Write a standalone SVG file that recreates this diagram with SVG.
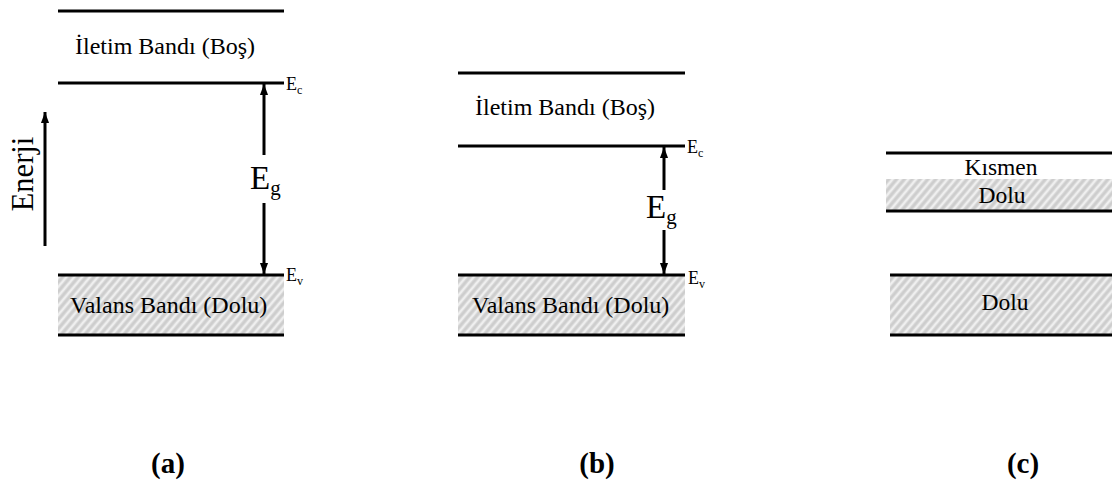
<svg xmlns="http://www.w3.org/2000/svg" width="1112" height="482" viewBox="0 0 1112 482">
<defs>
<pattern id="hatch" patternUnits="userSpaceOnUse" width="6" height="6" patternTransform="rotate(-50)">
<rect width="6" height="6" fill="#d9d9d9"/>
<rect width="6" height="2" y="0" fill="#efefef"/>
<rect width="6" height="1" y="3.5" fill="#c2c2c2"/>
</pattern>
<marker id="ah" markerUnits="userSpaceOnUse" markerWidth="11" markerHeight="16" refX="15" refY="5.5" viewBox="0 0 15 11" orient="auto">
<path d="M0,0 L15,5.5 L0,11 Z" fill="#000"/>
</marker>
<style>
.band{stroke:#000;stroke-width:3.2;fill:none}
.fill{fill:url(#hatch)}
.arr{stroke:#000;stroke-width:3;fill:none;marker-end:url(#ah)}
text{font-family:'Liberation Serif','Times New Roman','DejaVu Serif',serif;fill:#000}
.lbl{font-size:24px}
.e{font-size:18px}
.es{font-size:12px}
.eg{font-size:33px}
.egs{font-size:21px}
.c{font-size:23.5px;text-anchor:middle}
.cap{font-size:29px;font-weight:bold;text-anchor:middle}
</style>
</defs>

<g id="panel-a">
<rect class="fill" x="58" y="276" width="226" height="58"/>
<line class="band" x1="58" y1="11" x2="284" y2="11"/>
<line class="band" x1="58" y1="83" x2="284" y2="83"/>
<line class="band" x1="58" y1="275" x2="284" y2="275"/>
<line class="band" x1="58" y1="335" x2="284" y2="335"/>
<text class="lbl" x="75" y="54">İletim Bandı (Boş)</text>
<text class="lbl" x="70" y="313">Valans Bandı (Dolu)</text>
<text class="e" x="286" y="90">E<tspan class="es" dy="4">c</tspan></text>
<text class="e" x="286" y="281">E<tspan class="es" dy="4">v</tspan></text>
<text class="eg" x="250" y="189">E<tspan class="egs" dy="6">g</tspan></text>
<text font-size="30.5" transform="translate(33,174) rotate(-90)" text-anchor="middle">Enerji</text>
</g>

<g id="panel-b">
<rect class="fill" x="458" y="276" width="227" height="58"/>
<line class="band" x1="458" y1="73" x2="685" y2="73"/>
<line class="band" x1="458" y1="146" x2="685" y2="146"/>
<line class="band" x1="458" y1="275" x2="685" y2="275"/>
<line class="band" x1="458" y1="335" x2="685" y2="335"/>
<text class="lbl" x="475" y="115">İletim Bandı (Boş)</text>
<text class="lbl" x="472" y="313">Valans Bandı (Dolu)</text>
<text class="e" x="687" y="153">E<tspan class="es" dy="4">c</tspan></text>
<text class="e" x="688" y="284">E<tspan class="es" dy="4">v</tspan></text>
<text class="eg" x="646" y="218">E<tspan class="egs" dy="6">g</tspan></text>
</g>

<g id="panel-c">
<rect class="fill" x="886" y="179" width="226" height="31"/>
<rect class="fill" x="890" y="276" width="222" height="58"/>
<line class="band" x1="886" y1="153" x2="1112" y2="153"/>
<line class="band" x1="886" y1="211" x2="1112" y2="211"/>
<line class="band" x1="890" y1="275" x2="1112" y2="275"/>
<line class="band" x1="890" y1="335" x2="1112" y2="335"/>
<text class="c" x="1001" y="175">Kısmen</text>
<text class="c" x="1002" y="203">Dolu</text>
<text class="c" x="1005" y="310">Dolu</text>
</g>

<g id="connectors">
<line class="arr" x1="264" y1="155" x2="264" y2="84"/>
<line class="arr" x1="264" y1="203" x2="264" y2="274"/>
<line class="arr" x1="664" y1="190" x2="664" y2="147"/>
<line class="arr" x1="664" y1="230" x2="664" y2="274"/>
<line class="arr" x1="45" y1="246" x2="45" y2="112"/>
</g>

<g id="captions">
<text class="cap" x="168" y="473">(a)</text>
<text class="cap" x="597" y="473">(b)</text>
<text class="cap" x="1023" y="473">(c)</text>
</g>
</svg>
